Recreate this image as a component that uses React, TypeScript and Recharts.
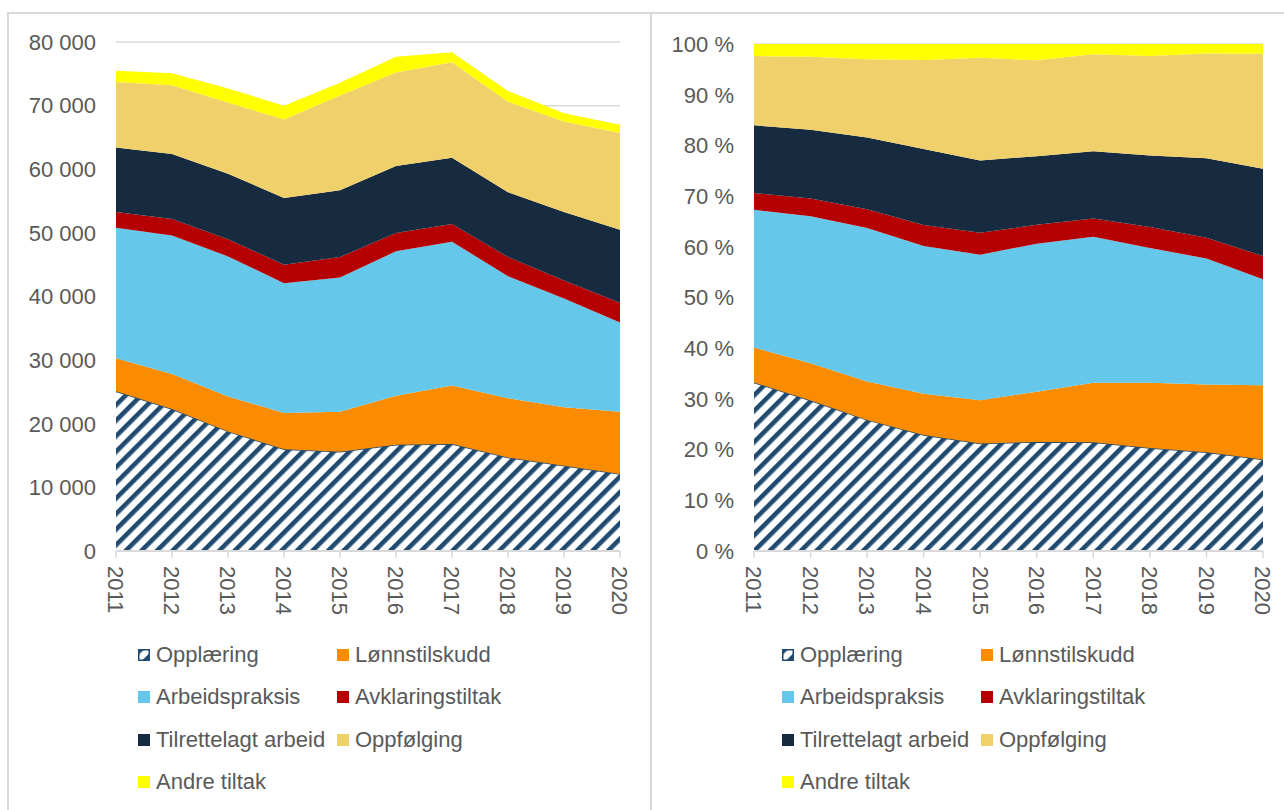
import React from "react";
import {
  AreaChart,
  Area,
  XAxis,
  YAxis,
  CartesianGrid,
  Legend,
} from "recharts";

const years = ["2011", "2012", "2013", "2014", "2015", "2016", "2017", "2018", "2019", "2020"];

const opplaering = [25100, 22300, 18800, 16000, 15600, 16700, 16800, 14700, 13400, 12100];
const lonnstilskudd = [5200, 5500, 5500, 5700, 6300, 7700, 9200, 9300, 9200, 9800];
const arbeidspraksis = [20500, 21800, 22000, 20400, 21100, 22700, 22600, 19200, 17100, 14000];
const avklaringstiltak = [2500, 2600, 2700, 2900, 3200, 2900, 2800, 3000, 2800, 3100];
const tilrettelagt = [10100, 10200, 10300, 10500, 10500, 10500, 10400, 10200, 10800, 11500];
const oppfolging = [10300, 10800, 11200, 12300, 14900, 14700, 15000, 14200, 14200, 15200];
const andreTiltak = [1800, 1900, 2200, 2200, 2000, 2500, 1600, 1700, 1300, 1300];

const countTicks = [0, 10000, 20000, 30000, 40000, 50000, 60000, 70000, 80000];
const shareTicks = [0, 0.1, 0.2, 0.3, 0.4, 0.5, 0.6, 0.7, 0.8, 0.9, 1];

const SERIES = [
  { key: "opplaering", name: "Opplæring", color: "#204A70" },
  { key: "lonnstilskudd", name: "Lønnstilskudd", color: "#FB8C00" },
  { key: "arbeidspraksis", name: "Arbeidspraksis", color: "#65C8EB" },
  { key: "avklaringstiltak", name: "Avklaringstiltak", color: "#B40000" },
  { key: "tilrettelagt", name: "Tilrettelagt arbeid", color: "#172B40" },
  { key: "oppfolging", name: "Oppfølging", color: "#F0D06B" },
  { key: "andre", name: "Andre tiltak", color: "#FFFF00" },
];

const data = years.map((year, i) => ({
  year,
  opplaering: opplaering[i],
  lonnstilskudd: lonnstilskudd[i],
  arbeidspraksis: arbeidspraksis[i],
  avklaringstiltak: avklaringstiltak[i],
  tilrettelagt: tilrettelagt[i],
  oppfolging: oppfolging[i],
  andre: andreTiltak[i],
}));

const FONT = '"Liberation Sans", Arial, sans-serif';
const TEXT = "#595959";
const GRID = "#D9D9D9";
const CHART_H = 798;

function fmtThousands(v: number) {
  return String(v).replace(/\B(?=(\d{3})+(?!\d))/g, " ");
}

function YearTick(props: any) {
  const { x, y, payload } = props;
  return (
    <text
      x={x}
      y={y}
      dy="0.35em"
      transform={`rotate(90, ${x}, ${y})`}
      textAnchor="start"
      fill={TEXT}
      fontSize={22}
      fontFamily={FONT}
    >
      {payload.value}
    </text>
  );
}

function HatchDefs({ id }: { id: string }) {
  return (
    <defs>
      <pattern id={id} patternUnits="userSpaceOnUse" width="11" height="11" patternTransform="rotate(45)">
        <rect width="11" height="11" fill="#ffffff" />
        <rect width="4.6" height="11" fill="#204A70" />
      </pattern>
    </defs>
  );
}

function LegendBlock({ hatchId }: { hatchId: string }) {
  return (
    <div style={{ position: "relative", width: 420, height: 170, fontFamily: FONT }}>
      {SERIES.map((s, i) => {
        const col = i % 2;
        const row = Math.floor(i / 2);
        return (
          <div
            key={s.key}
            style={{
              position: "absolute",
              left: col * 199,
              top: row * 42.3,
              height: 26,
              display: "flex",
              alignItems: "center",
              whiteSpace: "nowrap",
            }}
          >
            <svg width={12} height={12} style={{ marginRight: 6 }}>
              {i === 0 ? (
                <rect x={0.75} y={0.75} width={10.5} height={10.5} fill={`url(#${hatchId})`} stroke="#204A70" strokeWidth={1.5} />
              ) : (
                <rect x={0} y={0} width={12} height={12} fill={s.color} />
              )}
            </svg>
            <span style={{ fontSize: 22, color: TEXT, lineHeight: "26px" }}>{s.name}</span>
          </div>
        );
      })}
    </div>
  );
}

function StackedPanel({
  hatchId,
  expand,
  yWidth,
  marginTop,
  marginRight,
  width,
}: {
  hatchId: string;
  expand: boolean;
  yWidth: number;
  marginTop: number;
  marginRight: number;
  width: number;
}) {
  return (
    <AreaChart
      width={width}
      height={CHART_H}
      data={data}
      stackOffset={expand ? "expand" : "none"}
      margin={{ top: marginTop, right: marginRight, left: 0, bottom: 198 }}
    >
      <HatchDefs id={hatchId} />
      <CartesianGrid vertical={false} stroke={GRID} strokeWidth={1.5} />
      <XAxis
        dataKey="year"
        scale="point"
        padding={{ left: 0, right: 0 }}
        height={61}
        interval={0}
        tick={<YearTick />}
        tickSize={7}
        tickMargin={8}
        axisLine={{ stroke: GRID, strokeWidth: 2 }}
        tickLine={{ stroke: GRID, strokeWidth: 1.5 }}
      />
      <YAxis
        width={yWidth}
        domain={expand ? [0, 1] : [0, 80000]}
        ticks={expand ? shareTicks : countTicks}
        interval={0}
        axisLine={false}
        tickLine={false}
        tickSize={0}
        tickMargin={20}
        tickFormatter={(v: number) => (expand ? `${Math.round(v * 100)} %` : fmtThousands(v))}
        tick={{ fill: TEXT, fontSize: 22, fontFamily: FONT }}
      />
      {SERIES.map((s, i) => (
        <Area
          key={s.key}
          type="linear"
          dataKey={s.key}
          name={s.name}
          stackId="1"
          fill={i === 0 ? `url(#${hatchId})` : s.color}
          fillOpacity={1}
          stroke={i === 0 ? "#204A70" : "none"}
          strokeWidth={i === 0 ? 1.5 : 0}
          dot={false}
          activeDot={false}
          isAnimationActive={false}
        />
      ))}
      <Legend
        layout="vertical"
        align="center"
        verticalAlign="middle"
        wrapperStyle={{ left: 130, top: 630, width: 420, height: 170 }}
        content={() => <LegendBlock hatchId={hatchId} />}
      />
    </AreaChart>
  );
}

export default function App() {
  return (
    <div style={{ position: "absolute", left: 0, top: 0, width: 1284, height: 810, background: "#fff", overflow: "hidden" }}>
      <div
        style={{
          position: "absolute",
          left: 7,
          top: 12,
          width: 645,
          height: 798,
          boxSizing: "border-box",
          borderTop: `2px solid ${GRID}`,
          borderLeft: `2px solid ${GRID}`,
          borderRight: `2px solid ${GRID}`,
        }}
      />
      <div
        style={{
          position: "absolute",
          left: 652,
          top: 12,
          width: 632,
          height: 2,
          background: GRID,
        }}
      />
      <div style={{ position: "absolute", left: 8, top: 12 }}>
        <StackedPanel hatchId="hatchLeft" expand={false} yWidth={108} marginTop={30} marginRight={31} width={643} />
      </div>
      <div style={{ position: "absolute", left: 652, top: 12 }}>
        <StackedPanel hatchId="hatchRight" expand={true} yWidth={102} marginTop={32} marginRight={21} width={632} />
      </div>
    </div>
  );
}
